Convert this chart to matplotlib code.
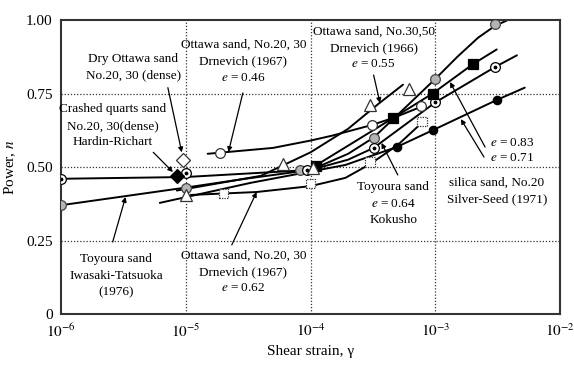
import numpy as np
import matplotlib
matplotlib.use("Agg")
import matplotlib.pyplot as plt

plt.rcParams['font.family'] = ['Liberation Serif', 'DejaVu Serif']
plt.rcParams['mathtext.fontset'] = 'stix'

# ---------------- data ----------------
# Toyoura sand, Iwasaki-Tatsuoka (grey circles)
it_line_g = [1e-6, 1e-5, 3e-5, 1e-4, 2e-4, 3.2e-4, 6e-4, 1e-3, 1.5e-3, 2.2e-3, 3e-3, 3.8e-3]
it_line_n = [0.37, 0.43, 0.46, 0.49, 0.545, 0.60, 0.71, 0.80, 0.875, 0.94, 0.98, 1.0]
it_pt_g = [1e-6, 1e-5, 8.2e-5, 3.2e-4, 1e-3, 3e-3]
it_pt_n = [0.37, 0.43, 0.49, 0.60, 0.80, 0.985]

# Toyoura sand e=0.64 Kokusho (circle with dot)
ko_line_g = [1e-6, 1e-5, 1e-4, 2e-4, 3.2e-4, 1e-3, 3e-3, 4.5e-3]
ko_line_n = [0.46, 0.466, 0.49, 0.525, 0.565, 0.72, 0.84, 0.88]
ko_pt_g = [1e-6, 1e-5, 9.3e-5, 3.2e-4, 1e-3, 3e-3]
ko_pt_n = [0.46, 0.48, 0.49, 0.565, 0.72, 0.84]

# silica sand No.20, Silver-Seed, e=0.83 (black squares)
sq_line_g = [8e-5, 1.1e-4, 4.6e-4, 9.5e-4, 2e-3, 3.1e-3]
sq_line_n = [0.48, 0.505, 0.667, 0.75, 0.85, 0.90]
sq_pt_g = [1.1e-4, 4.6e-4, 9.5e-4, 2e-3]
sq_pt_n = [0.505, 0.667, 0.75, 0.85]

# silica sand No.20, Silver-Seed, e=0.71 (black circles)
bc_line_g = [6.2e-6, 3.3e-5, 1.9e-4, 4.9e-4, 9.5e-4, 3.1e-3, 5.2e-3]
bc_line_n = [0.378, 0.446, 0.507, 0.568, 0.625, 0.728, 0.77]
bc_pt_g = [4.9e-4, 9.5e-4, 3.1e-3]
bc_pt_n = [0.568, 0.625, 0.728]

# Ottawa sand No.30,50 Drnevich (1966) e=0.55 (open triangles)
tr_line_g = [8.5e-6, 4e-5, 1e-4, 2e-4, 3.5e-4, 5.5e-4]
tr_line_n = [0.42, 0.47, 0.55, 0.63, 0.715, 0.78]
tr_pt_g = [1e-5, 6e-5, 1.05e-4, 3e-4, 6.2e-4]
tr_pt_n = [0.405, 0.51, 0.497, 0.71, 0.765]

# Ottawa sand No.20,30 Drnevich (1967) e=0.46 (open circles)
oc_line_g = [1.5e-5, 5e-5, 1e-4, 1.5e-4, 3.1e-4, 4.6e-4, 7.7e-4]
oc_line_n = [0.545, 0.565, 0.59, 0.607, 0.643, 0.667, 0.705]
oc_pt_g = [1.9e-5, 3.1e-4, 7.7e-4]
oc_pt_n = [0.548, 0.643, 0.707]

# Ottawa sand No.20,30 Drnevich (1967) e=0.62 (dashed squares)
ds_line_g = [1.1e-5, 3.7e-5, 1e-4, 1.9e-4, 3e-4, 5e-4, 8e-4]
ds_line_n = [0.405, 0.415, 0.435, 0.463, 0.51, 0.575, 0.655]
ds_pt_g = [2e-5, 1e-4, 3e-4, 7.8e-4]
ds_pt_n = [0.41, 0.445, 0.517, 0.655]

# Crashed quarts sand, Hardin-Richart (black diamond)
hr_g = [8.5e-6]
hr_n = [0.47]
# Dry Ottawa sand (open diamond)
do_g = [9.6e-6]
do_n = [0.524]

x_ticks = [1e-6, 1e-5, 1e-4, 1e-3, 1e-2]
x_ticklabels = [r'$10^{-6}$', r'$10^{-5}$', r'$10^{-4}$', r'$10^{-3}$', r'$10^{-2}$']
y_ticks = [0, 0.25, 0.5, 0.75, 1.0]
y_ticklabels = ['0', '0.25', '0.50', '0.75', '1.00']

# ---------------- figure ----------------
fig = plt.figure(figsize=(5.74, 3.67), dpi=100)
ax = fig.add_axes([0.106, 0.1444, 0.870, 0.801])
ax.set_xscale('log')
ax.set_xlim(1e-6, 1e-2)
ax.set_ylim(0, 1.0)

gkw = dict(color='#333333', lw=0.9, ls=(0, (1, 1.5)), zorder=1)
for yv in [0.25, 0.5, 0.75]:
    ax.axhline(yv, **gkw)
for xv in [1e-5, 1e-4, 1e-3]:
    ax.axvline(xv, **gkw)

lkw = dict(color='black', lw=1.4, zorder=2, solid_capstyle='round')
for g, n in [(it_line_g, it_line_n), (ko_line_g, ko_line_n), (sq_line_g, sq_line_n),
             (bc_line_g, bc_line_n), (tr_line_g, tr_line_n), (oc_line_g, oc_line_n),
             (ds_line_g, ds_line_n)]:
    ax.plot(g, n, **lkw)

mkw = dict(ls='none', zorder=4, markeredgewidth=0.9)
ax.plot(it_pt_g, it_pt_n, 'o', ms=7, mfc='#b4b4b4', mec='#444444', **mkw)
ax.plot(ko_pt_g, ko_pt_n, 'o', ms=7, mfc='white', mec='black', **mkw)
ax.plot(ko_pt_g, ko_pt_n, '.', ms=3.5, color='black', ls='none', zorder=5)
ax.plot(sq_pt_g, sq_pt_n, 's', ms=7, mfc='black', mec='black', **mkw)
ax.plot(bc_pt_g, bc_pt_n, 'o', ms=6, mfc='black', mec='black', **mkw)
ax.plot(tr_pt_g, tr_pt_n, '^', ms=8, mfc='white', mec='#333333', **mkw)
ax.plot(oc_pt_g, oc_pt_n, 'o', ms=7, mfc='white', mec='#333333', **mkw)
ax.scatter(ds_pt_g, ds_pt_n, marker='s', s=45, facecolors='white', edgecolors='#333333',
           linewidths=0.9, linestyles=(0, (1, 1)), zorder=4)
ax.plot(hr_g, hr_n, 'D', ms=7, mfc='black', mec='black', **mkw)
ax.plot(do_g, do_n, 'D', ms=7.5, mfc='white', mec='#333333', **mkw)

# ---------------- labels & arrows ----------------
fs = 9.5
tkw = dict(fontsize=fs, ha='center', va='center', multialignment='center',
           linespacing=1.5, zorder=6)
ax.text(3.8e-6, 0.84, 'Dry Ottawa sand\nNo.20, 30 (dense)', **tkw)
ax.text(2.6e-6, 0.64, 'Crashed quarts sand\nNo.20, 30(dense)\nHardin-Richart', **tkw)
ax.text(2.9e-5, 0.86, 'Ottawa sand, No.20, 30\nDrnevich (1967)\n$e$ = 0.46', **tkw)
ax.text(3.2e-4, 0.905, 'Ottawa sand, No.30,50\nDrnevich (1966)\n$e$ = 0.55', **tkw)
ax.text(2.75e-3, 0.582, '$e$ = 0.83', fontsize=fs, ha='left', va='center')
ax.text(2.75e-3, 0.53, '$e$ = 0.71', fontsize=fs, ha='left', va='center')
ax.text(3.1e-3, 0.42, 'silica sand, No.20\nSilver-Seed (1971)', **tkw)
ax.text(4.6e-4, 0.375, 'Toyoura sand\n$e$ = 0.64\nKokusho', **tkw)
ax.text(2.76e-6, 0.13, 'Toyoura sand\nIwasaki-Tatsuoka\n(1976)', **tkw)
ax.text(2.9e-5, 0.143, 'Ottawa sand, No.20, 30\nDrnevich (1967)\n$e$ = 0.62', **tkw)

akw = dict(arrowstyle='-|>', lw=0.9, color='black', mutation_scale=7,
           shrinkA=0, shrinkB=0)
arrows = [((7.2e-6, 0.77), (9.3e-6, 0.55)),
          ((5.5e-6, 0.55), (7.9e-6, 0.483)),
          ((2.87e-5, 0.752), (2.2e-5, 0.551)),
          ((3.2e-4, 0.813), (3.6e-4, 0.718)),
          ((2.5e-3, 0.568), (1.31e-3, 0.789)),
          ((2.45e-3, 0.534), (1.6e-3, 0.663)),
          ((5.0e-4, 0.473), (3.7e-4, 0.582)),
          ((2.6e-6, 0.245), (3.3e-6, 0.398)),
          ((2.34e-5, 0.235), (3.7e-5, 0.415))]
for tail, tip in arrows:
    ax.annotate('', xy=tip, xytext=tail, arrowprops=akw, zorder=6)

# ---------------- axes styling ----------------
ax.set_xticks(x_ticks)
ax.set_xticklabels(x_ticklabels)
ax.set_yticks(y_ticks)
ax.set_yticklabels(y_ticklabels)
ax.minorticks_off()
ax.tick_params(axis='both', length=0, labelsize=11, pad=6)
for sp in ax.spines.values():
    sp.set_linewidth(1.5)
    sp.set_color('#333333')

ax.set_xlabel('Shear strain, γ', fontsize=11, labelpad=4)
ax.set_ylabel(r'Power, $n$', fontsize=11, labelpad=6)

fig.savefig('out.png', dpi=100)
